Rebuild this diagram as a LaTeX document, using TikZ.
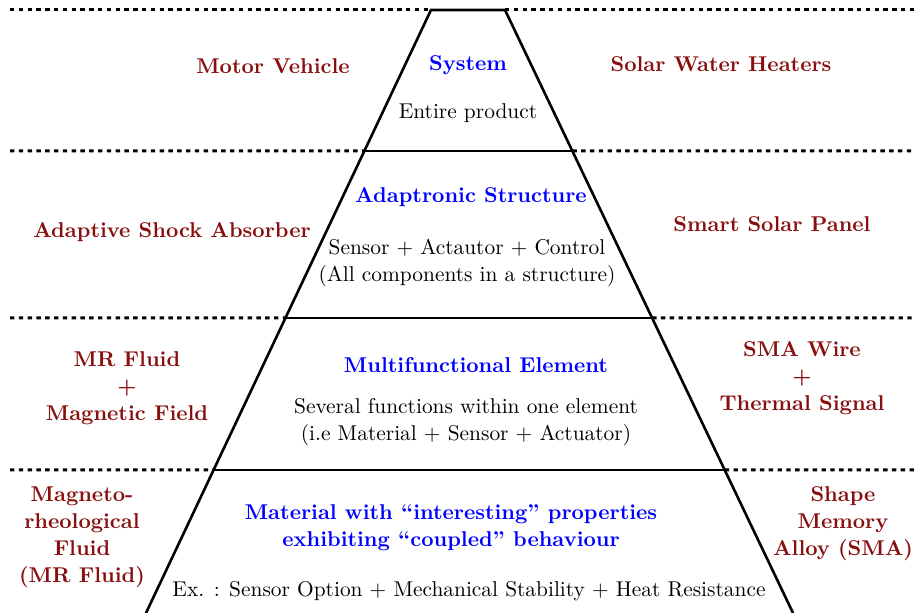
\documentclass[tikz,border=0pt]{standalone}
\usepackage{tikz}
\usetikzlibrary{calc}
\usepackage{xcolor}
\definecolor{darkred}{RGB}{135,15,15}

\begin{document}
\begin{tikzpicture}[x=0.5pt,y=0.5pt,
        layer/.style={line width=1.3pt},
        sep/.style={line width=1.5pt,dash pattern=on 2.2pt off 2.2pt},
        title/.style={font=\fontsize{10.7}{13.5}\selectfont\bfseries,text=blue,align=center},
        desc/.style={font=\fontsize{10.7}{13.5}\selectfont,align=center},
        example/.style={font=\fontsize{10.7}{13.5}\selectfont\bfseries,text=darkred,align=center}
      ]
        \useasboundingbox (0,0) rectangle (915,613);
        % pyramid corners
        \coordinate (tl) at (431,603); \coordinate (tr) at (505,603);
        \coordinate (bl) at (146,0);   \coordinate (br) at (793,0);
        % level boundaries
        \foreach \lvl/\h in {a/462,b/295,c/143}{
          \coordinate (\lvl L) at ($(tl)!{(603-\h)/603}!(bl)$);
          \coordinate (\lvl R) at ($(tr)!{(603-\h)/603}!(br)$);
          \coordinate (\lvl W) at (10,\h);
          \coordinate (\lvl E) at (915,\h);
        }
        \coordinate (tW) at (10,603); \coordinate (tE) at (915,603);
        % dashed separators
        \draw[sep](tW)--(tl); \draw[sep](tr)--(tE);
        \foreach \lvl in {a,b,c}{
          \draw[sep](\lvl W)--(\lvl L); \draw[sep](\lvl R)--(\lvl E);
        }
        % pyramid
        \draw[layer](bl)--(tl)--(tr)--(br);
        \foreach \lvl in {a,b,c}{ \draw[layer](\lvl L)--(\lvl R); }
        % level 1
        \node[title] (sys) at (468,548) {System};
        \node[desc] (sysd) at (468,500) {Entire product};
        \node[example] (vehicle) at (273,547) {Motor Vehicle};
        \node[example] (heater) at (721,549) {Solar Water Heaters};
        % level 2
        \node[title] (struct) at (471,416) {Adaptronic Structure};
        \node[desc] (structd) at (467,349.5) {Sensor + Actautor + Control\\(All components in a structure)};
        \node[example] (shock) at (172,381) {Adaptive Shock Absorber};
        \node[example] (panel) at (772,389) {Smart Solar Panel};
        % level 3
        \node[title] (elem) at (476,248) {Multifunctional Element};
        \node[desc] (elemd) at (466,191) {Several functions within one element\\(i.e Material + Sensor + Actuator)};
        \node[example] (mrfield) at (127,225) {MR Fluid\\+\\Magnetic Field};
        \node[example] (smawire) at (802,235) {SMA Wire\\+\\Thermal Signal};
        % level 4
        \node[title] (mat) at (451,85.5) {Material with \textquotedblleft interesting\textquotedblright{} properties\\exhibiting \textquotedblleft coupled\textquotedblright{} behaviour};
        \node[desc] (matd) at (469,22) {Ex. : Sensor Option + Mechanical Stability + Heat Resistance};
        \node[example] (mrfluid) at (82,76) {Magneto-\\rheological\\Fluid\\(MR Fluid)};
        \node[example] (sma) at (843,89.5) {Shape\\Memory\\Alloy (SMA)};
      \end{tikzpicture}
\end{document}
